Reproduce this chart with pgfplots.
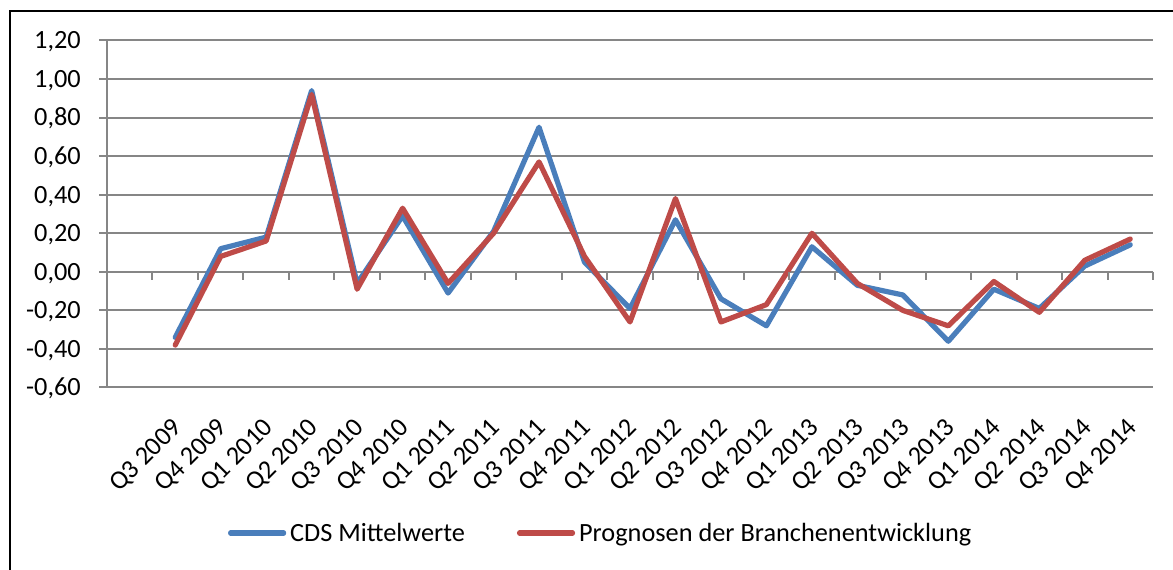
\documentclass[border=0pt]{standalone}
\usepackage{fontspec}
\setmainfont{Carlito}
\usepackage{pgfplots}
\pgfplotsset{compat=1.18}
\definecolor{cdsblue}{HTML}{4A7EBB}
\definecolor{progred}{HTML}{BE4B48}
\definecolor{gridgray}{HTML}{868686}

\begin{document}
\begin{tikzpicture}[font=\fontsize{26.3bp}{31bp}\selectfont]
\useasboundingbox (0bp,0bp) rectangle (1173bp,570bp);
\draw[black,line width=2bp] (10bp,0bp) -- (10bp,559.3bp) -- (1173bp,559.3bp);
\begin{axis}[at={(107bp,182.5bp)},anchor=south west,scale only axis,width=1046bp,height=347bp,
  xmin=-0.5,xmax=22.5,ymin=-0.6,ymax=1.2,clip=false,
  axis x line*=bottom,axis y line*=left,axis line style={gridgray,line width=2bp,-},
  xtick={1,...,22},
  xticklabels={Q3 2009,Q4 2009,Q1 2010,Q2 2010,Q3 2010,Q4 2010,Q1 2011,Q2 2011,Q3 2011,Q4 2011,Q1 2012,
    Q2 2012,Q3 2012,Q4 2012,Q1 2013,Q2 2013,Q3 2013,Q4 2013,Q1 2014,Q2 2014,Q3 2014,Q4 2014},
  x tick style={draw=none},
  % shifts act in the rotated frame
  xticklabel style={anchor=east,inner sep=0pt,rotate=45,xshift=-18bp,yshift=-22.3bp},
  ytick={-0.6,-0.4,-0.2,0,0.2,0.4,0.6,0.8,1.0,1.2},scaled y ticks=false,
  y tick style={gridgray,line width=2bp},tick align=outside,major tick length=8bp,
  yticklabel style={anchor=base east,inner sep=0pt,xshift=-18bp,yshift=-8.3bp},
  /pgf/number format/fixed,/pgf/number format/fixed zerofill,/pgf/number format/precision=2,
  /pgf/number format/use comma,/pgf/number format/assume math mode=true,
  ymajorgrids,grid style={gridgray,line width=2bp},
  legend columns=2,
  legend style={at={(0.1157,-0.4193)},anchor=west,draw=none,fill=none,inner sep=0pt,outer sep=0pt,
    nodes={inner sep=0pt},
    /tikz/every odd column/.append style={column sep=4bp},
    /tikz/every even column/.append style={column sep=52bp}},
  legend image code/.code={\draw[#1] (0bp,0bp) -- (53bp,0bp);}]
\addplot[cdsblue,line width=5.2bp,line cap=round,line join=round] coordinates {
  (1,-0.34)(2,0.12)(3,0.18)(4,0.94)(5,-0.06)(6,0.29)(7,-0.11)(8,0.21)(9,0.75)(10,0.05)(11,-0.19)
  (12,0.27)(13,-0.14)(14,-0.28)(15,0.13)(16,-0.07)(17,-0.12)(18,-0.36)(19,-0.09)(20,-0.19)(21,0.03)(22,0.14)};
\addlegendentry{CDS Mittelwerte}
\addplot[progred,line width=5.2bp,line cap=round,line join=round] coordinates {
  (1,-0.38)(2,0.08)(3,0.16)(4,0.92)(5,-0.09)(6,0.33)(7,-0.06)(8,0.20)(9,0.57)(10,0.08)(11,-0.26)
  (12,0.38)(13,-0.26)(14,-0.17)(15,0.20)(16,-0.06)(17,-0.20)(18,-0.28)(19,-0.05)(20,-0.21)(21,0.06)(22,0.17)};
\addlegendentry{Prognosen der Branchenentwicklung}
% category ticks on the zero line
\pgfplotsinvokeforeach{0.5,1.5,...,22.5}{\draw[gridgray,line width=2bp] (axis cs:#1,0) -- ++(0bp,-8bp);}
\end{axis}
\end{tikzpicture}
\end{document}
